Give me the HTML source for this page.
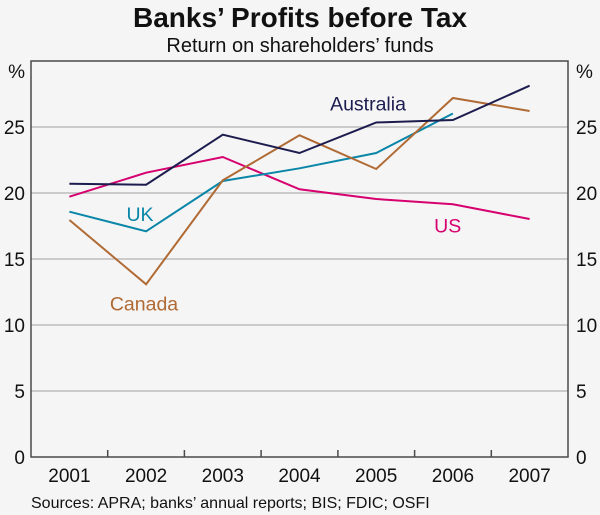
<!DOCTYPE html>
<html><head><meta charset="utf-8"><style>
html,body{margin:0;padding:0;background:#f5f5f5;}
svg{display:block;}
text{font-family:"Liberation Sans",Arial,sans-serif;}
</style></head><body>
<svg width="600" height="515" viewBox="0 0 600 515" xmlns="http://www.w3.org/2000/svg">
<rect x="0" y="0" width="600" height="515" fill="#f5f5f5"/>
<text x="300" y="27" font-size="28" font-weight="bold" text-anchor="middle" fill="#111">Banks’ Profits before Tax</text>
<text x="300" y="52" font-size="20" text-anchor="middle" fill="#111">Return on shareholders’ funds</text>
<!-- gridlines -->
<g stroke="#bdbdbd" stroke-width="1.5">
<line x1="31" y1="127" x2="568" y2="127"/>
<line x1="31" y1="193" x2="568" y2="193"/>
<line x1="31" y1="259" x2="568" y2="259"/>
<line x1="31" y1="325" x2="568" y2="325"/>
<line x1="31" y1="391" x2="568" y2="391"/>
</g>
<!-- frame -->
<rect x="31" y="61" width="537" height="396" fill="none" stroke="#4a4a4a" stroke-width="1.5"/>
<!-- ticks -->
<g stroke="#4a4a4a" stroke-width="1.5">
<line x1="107.7" y1="457" x2="107.7" y2="450"/>
<line x1="184.4" y1="457" x2="184.4" y2="450"/>
<line x1="261.1" y1="457" x2="261.1" y2="450"/>
<line x1="337.9" y1="457" x2="337.9" y2="450"/>
<line x1="414.6" y1="457" x2="414.6" y2="450"/>
<line x1="491.3" y1="457" x2="491.3" y2="450"/>
</g>
<!-- y labels -->
<g font-size="19" fill="#111">
<text x="25" y="78" text-anchor="end">%</text>
<text x="25" y="134" text-anchor="end">25</text>
<text x="25" y="200" text-anchor="end">20</text>
<text x="25" y="266" text-anchor="end">15</text>
<text x="25" y="332" text-anchor="end">10</text>
<text x="25" y="398" text-anchor="end">5</text>
<text x="25" y="464" text-anchor="end">0</text>
<text x="576" y="78">%</text>
<text x="576" y="134">25</text>
<text x="576" y="200">20</text>
<text x="576" y="266">15</text>
<text x="576" y="332">10</text>
<text x="576" y="398">5</text>
<text x="576" y="464">0</text>
</g>
<!-- x labels -->
<g font-size="19" fill="#111" text-anchor="middle">
<text x="69.4" y="482">2001</text>
<text x="146.1" y="482">2002</text>
<text x="222.8" y="482">2003</text>
<text x="299.5" y="482">2004</text>
<text x="376.2" y="482">2005</text>
<text x="452.9" y="482">2006</text>
<text x="529.6" y="482">2007</text>
</g>
<text x="31" y="508" font-size="16" fill="#111">Sources: APRA; banks’ annual reports; BIS; FDIC; OSFI</text>
<!-- series -->
<g fill="none" stroke-width="2" stroke-linejoin="miter">
<polyline stroke="#d6006f" points="69.4,196.7 146.1,172.7 222.8,157 299.5,189.3 376.2,199 452.9,204.3 529.6,219"/>
<polyline stroke="#0a86a8" points="69.4,211.7 146.1,231.3 222.8,181 299.5,168.3 376.2,153 452.9,113.5"/>
<polyline stroke="#b06a34" points="69.4,220 146.1,284.3 222.8,180.3 299.5,135.3 376.2,169 452.9,98 529.6,111"/>
<polyline stroke="#1c1c4f" points="69.4,183.7 146.1,184.7 222.8,134.7 299.5,153 376.2,122.5 452.9,120 529.6,85.7"/>
</g>
<!-- labels -->
<g font-size="19.5" text-anchor="middle">
<text x="368" y="110.7" fill="#1c1c4f">Australia</text>
<text x="140" y="221" fill="#0a86a8">UK</text>
<text x="144" y="310.7" fill="#b06a34">Canada</text>
<text x="447.7" y="232.7" fill="#d6006f">US</text>
</g>
</svg>
</body></html>
